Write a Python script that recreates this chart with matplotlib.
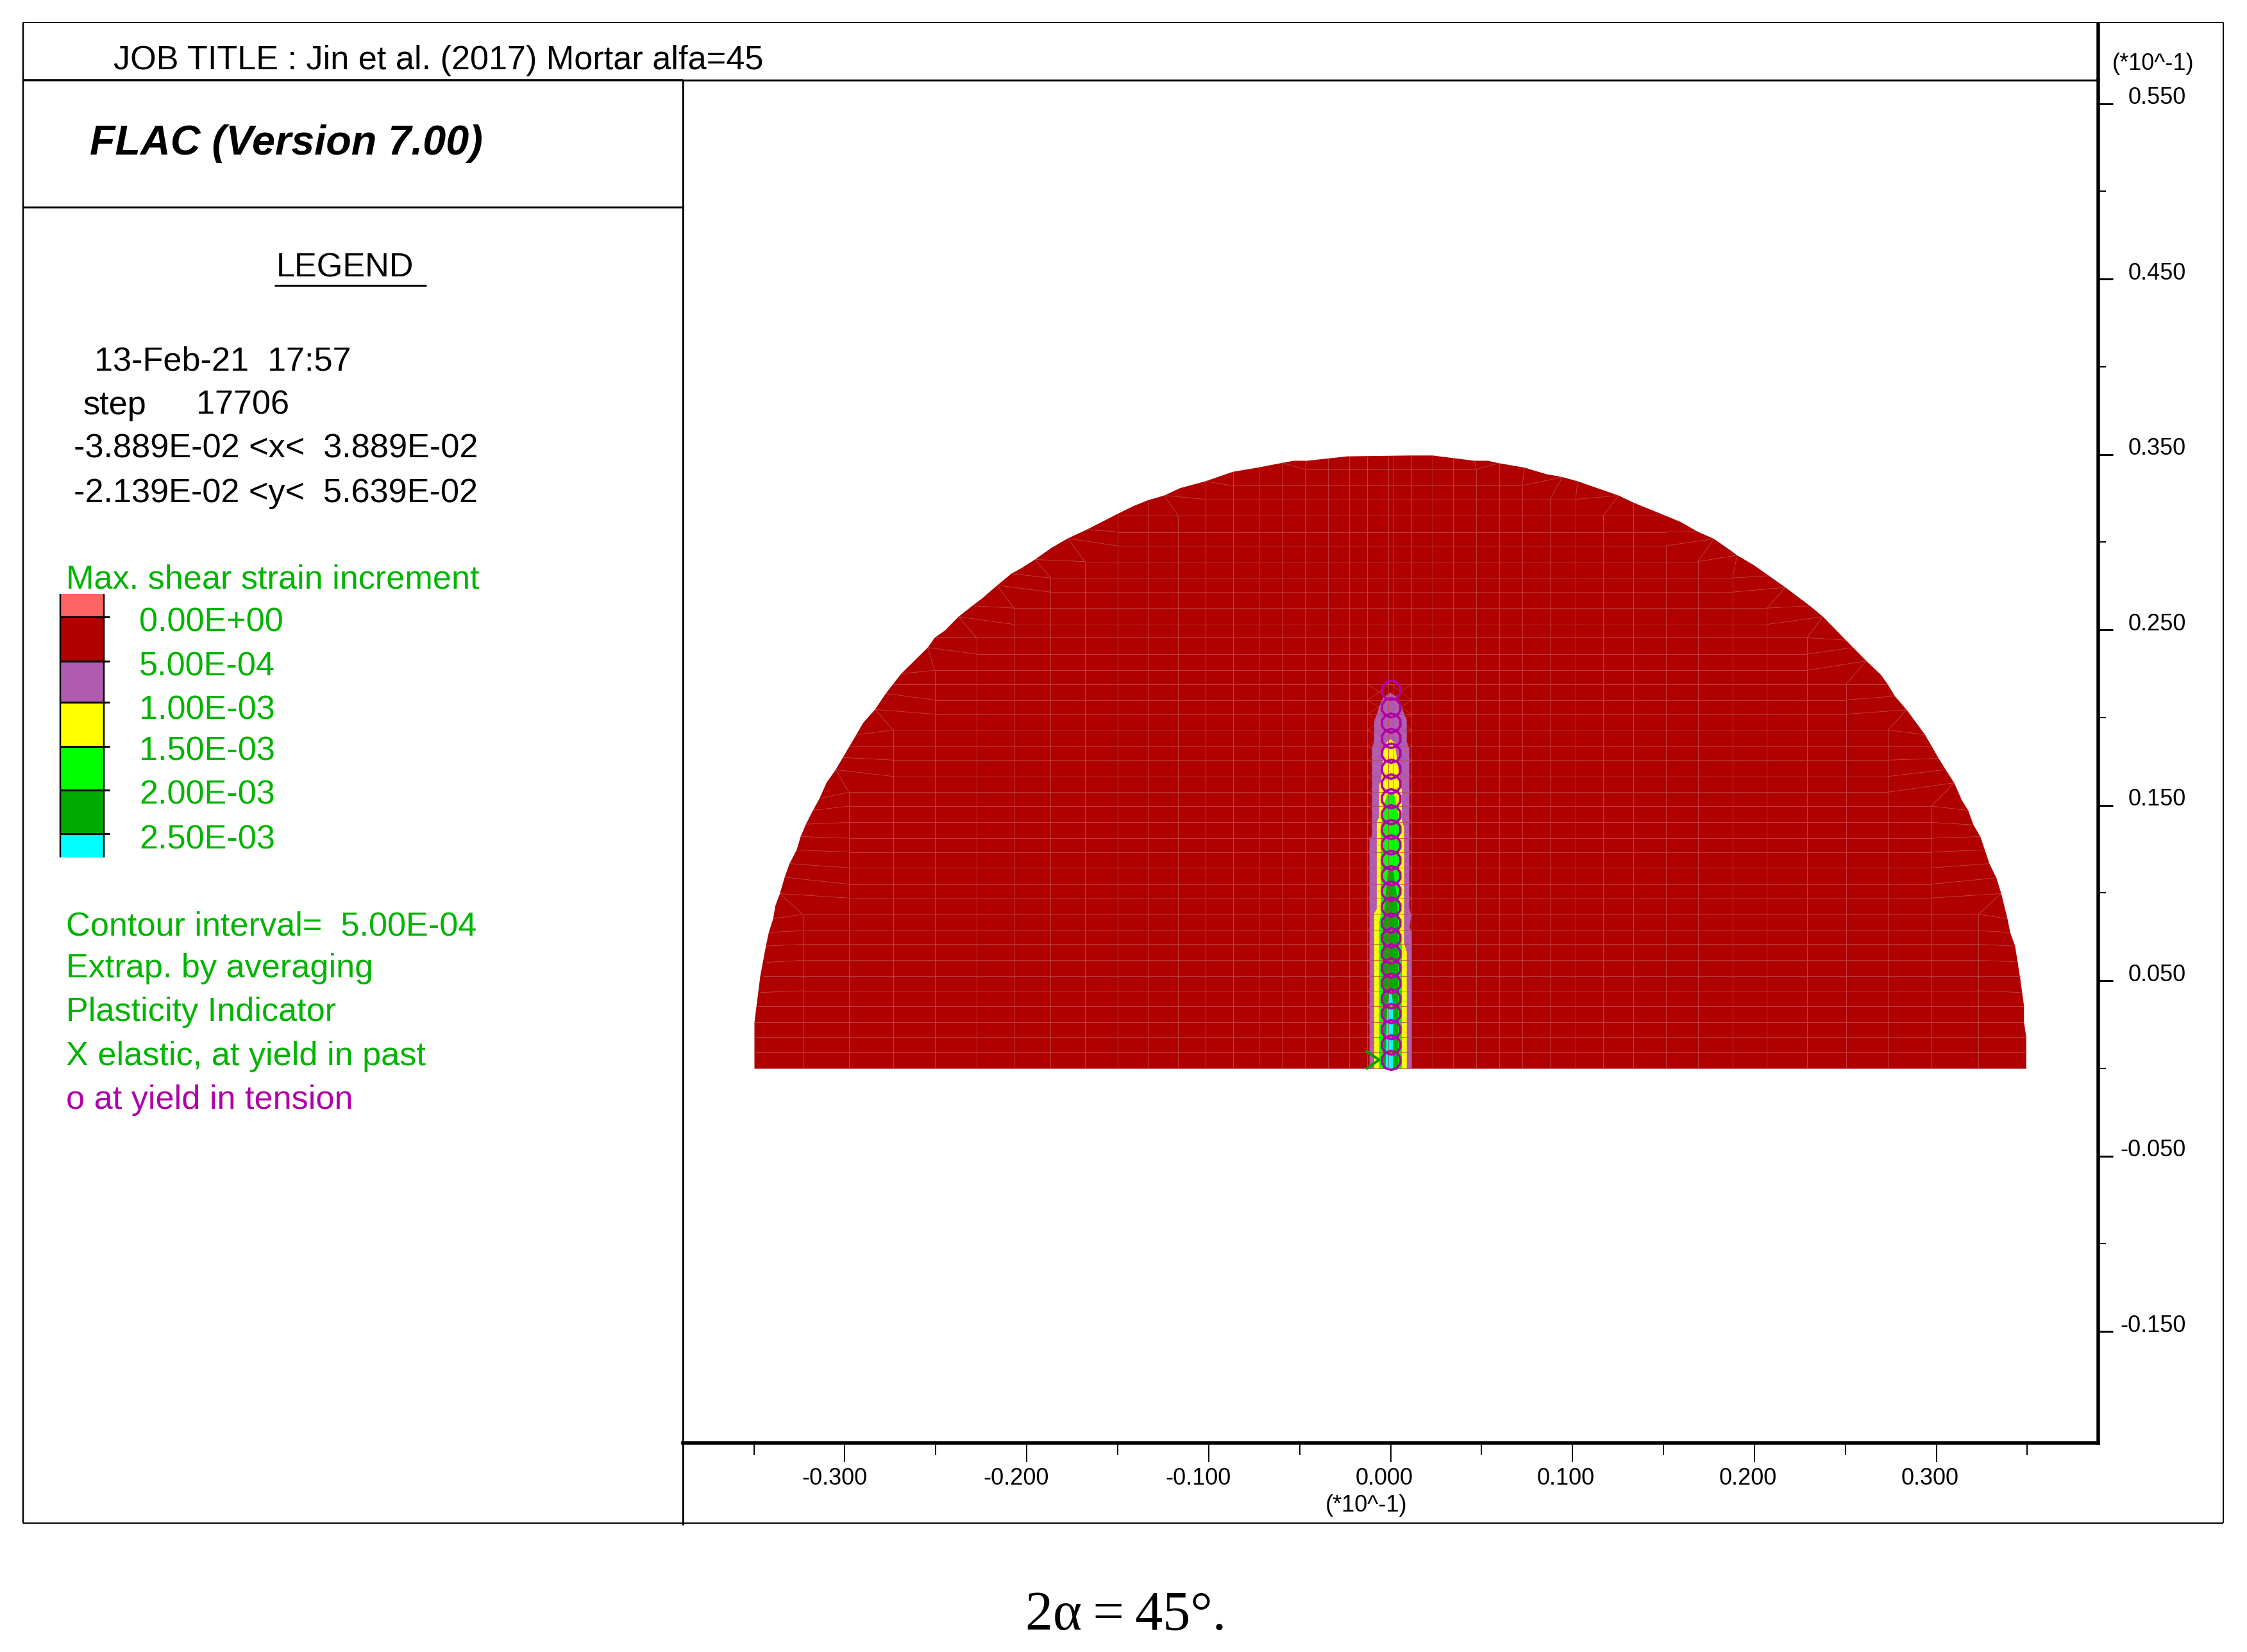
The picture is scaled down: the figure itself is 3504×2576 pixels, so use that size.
import numpy as np
import matplotlib
matplotlib.use("Agg")
import matplotlib.pyplot as plt
from matplotlib.lines import Line2D
from matplotlib.collections import LineCollection
from matplotlib.transforms import ScaledTranslation

W, H, DPI = 3504, 2576, 100
plt.rcParams['font.family'] = ['Liberation Sans', 'DejaVu Sans']

# model outline (units of 10^-1), left foot to right foot
outline_x = [-.3497, -.3497, -.3465, -.3434, -.3418, -.3394, -.3382, -.3357, -.3331, -.3304, -.3265, -.3243,
             -.3214, -.3175, -.3139, -.3101, -.3050, -.3011, -.2937, -.2899, -.2834, -.2775, -.2690, -.2544,
             -.2506, -.2449, -.2375, -.2299, -.2247, -.2162, -.2085, -.2029, -.1955, -.1865, -.1775, -.1669,
             -.1501, -.1415, -.1334, -.1244, -.1157, -.1018, -.0867, -.0730, -.0595, -.0532, -.0460, -.0343,
             -.0240, .0113, .0230, .0461, .0535, .0596, .0736, .0855, .0945, .1028, .1253, .1338, .1511,
             .1597, .1687, .1777, .1866, .1905, .1997, .2170, .2305, .2377, .2503, .2615, .2694, .2732,
             .2772, .2837, .2938, .3013, .3051, .3098, .3141, .3175, .3204, .3242, .3292, .3330, .3357,
             .3391, .3406, .3433, .3462, .3482, .3482, .3494, .3494]
outline_y = [0, .0261, .0525, .0697, .0775, .0853, .0927, .0996, .1089, .1167, .1245, .1321,
             .1392, .1471, .1539, .1628, .1703, .1772, .1902, .1970, .2046, .2137, .2250, .2399,
             .2455, .2497, .2575, .2637, .2678, .2754, .2820, .2852, .2901, .2967, .3021, .3072,
             .3161, .3205, .3239, .3266, .3308, .3347, .3401, .3425, .3452, .3464, .3464, .3477,
             .3489, .3494, .3494, .3464, .3464, .3450, .3425, .3388, .3371, .3347, .3266, .3224, .3151,
             .3114, .3060, .3019, .2955, .2925, .2869, .2742, .2637, .2575, .2441, .2323, .2245, .2191,
             .2122, .2044, .1902, .1767, .1703, .1628, .1527, .1471, .1388, .1321, .1167, .1086, .0996,
             .0853, .0775, .0697, .0506, .0354, .0261, .0180, 0]

# mesh lines
col_x = [-.3232, -.2978, -.2735, -.2506, -.2276, -.2072, -.1869, -.1681, -.1501, -.1334, -.1168, -.1018,
         -.0867, -.0725, -.0597, -.0471, -.0343, -.0227, -.0128, -.0011, .0011, .0115, .0230, .0342, .0470,
         .0596, .0724, .0875, .1017, .1169, .1334, .1513, .1689, .1880, .2069, .2289, .2505, .2734, .2972, .3231]
col_top = [.0878, .1574, .1929, .2269, .2455, .2624, .2796, .2889, .3161, .3239, .3151, .3347,
           .3401, .3425, .3452, .3415, .3477, .3489, .3489, .3489, .3489, .3491, .3494, .3480, .3415,
           .3450, .3322, .3244, .3244, .3151, .3224, .2979, .2889, .2796, .2624, .2455, .2191, .1929, .1495, .0878]

row_y = [0, .0090, .0180, .0261, .0354, .0442, .0525, .0616, .0707, .0785, .0878, .0971, .1050, .1143, .1233,
         .1312, .1402, .1495, .1574, .1664, .1757, .1836, .1929, .2019, .2100, .2191, .2269, .2362, .2455,
         .2531, .2624, .2715, .2796, .2889, .2979, .3058, .3151, .3244, .3322, .3415]
row_left = [-.3497, -.3497, -.3497, -.3497, -.3479, -.3232, -.3232, -.3232, -.3232, -.3232, -.3232, -.2978, -.2978,
            -.2978, -.2978, -.2978, -.2978, -.2978, -.2978, -.2735, -.2735, -.2735, -.2735, -.2506, -.2506, -.2506,
            -.2506, -.2276, -.2276, -.2072, -.2072, -.1869, -.1869, -.1681, -.1501, -.1501, -.1501, -.1018, -.0867, -.0471]
row_right = [.3494, .3494, .3494, .3482, .3482, .3231, .3231, .3231, .3231, .3231, .3231, .2972, .2972,
             .2972, .2972, .2972, .2972, .2972, .2734, .2734, .2734, .2734, .2734, .2505, .2505, .2505,
             .2289, .2289, .2289, .2069, .2069, .1880, .1880, .1689, .1513, .1513, .1511, .1017, .0724, .0470]

# x0, y0, x1, y1 of the slanted mesh lines running out to the boundary
spokes = [
    (-.3232, .0442, -.3465, .0432), (-.3232, .0525, -.3450, .0525), (-.3232, .0616, -.3432, .0604),
    (-.3232, .0707, -.3432, .0697), (-.3232, .0785, -.3416, .0775), (-.3232, .0878, -.3394, .0853),
    (-.3232, .0878, -.3357, .0996), (-.2978, .0971, -.3357, .0996), (-.2978, .1050, -.3331, .1089),
    (-.2978, .1143, -.3304, .1167), (-.2978, .1233, -.3265, .1245), (-.2978, .1312, -.3243, .1321),
    (-.2978, .1402, -.3214, .1392), (-.2978, .1495, -.3175, .1471), (-.2978, .1574, -.3139, .1539),
    (-.2978, .1574, -.3050, .1703), (-.2735, .1664, -.3050, .1703), (-.2735, .1757, -.3011, .1772),
    (-.2735, .1836, -.2973, .1836), (-.2735, .1929, -.2937, .1902), (-.2735, .1929, -.2834, .2046),
    (-.2506, .2019, -.2834, .2046), (-.2506, .2100, -.2775, .2137), (-.2506, .2191, -.2735, .2191),
    (-.2506, .2269, -.2690, .2250), (-.2506, .2269, -.2544, .2399), (-.2276, .2362, -.2544, .2399),
    (-.2276, .2455, -.2506, .2455), (-.2276, .2455, -.2375, .2575), (-.2072, .2531, -.2375, .2575),
    (-.2072, .2624, -.2299, .2637), (-.2072, .2624, -.2162, .2754), (-.1869, .2715, -.2162, .2754),
    (-.1869, .2796, -.2085, .2820), (-.1869, .2796, -.1955, .2901), (-.1681, .2889, -.1955, .2901),
    (-.1681, .2889, -.1775, .3021), (-.1501, .2979, -.1775, .3021), (-.1501, .3058, -.1669, .3072),
    (-.1168, .3151, -.1244, .3266), (-.1018, .3244, -.1244, .3266), (-.0867, .3322, -.1018, .3347),
    (-.0471, .3415, -.0595, .3452), (-.0471, .3415, -.0460, .3464),
    (.3231, .0878, .3391, .0853), (.3231, .0785, .3406, .0775), (.3231, .0707, .3433, .0697),
    (.3231, .0616, .3433, .0607), (.3231, .0525, .3462, .0525), (.3231, .0442, .3467, .0432),
    (.3231, .0878, .3357, .0996), (.2972, .0971, .3357, .0996), (.2972, .1050, .3330, .1086),
    (.2972, .1143, .3292, .1167), (.2972, .1233, .3267, .1245), (.2972, .1312, .3242, .1321),
    (.2972, .1402, .3204, .1388), (.2972, .1495, .3175, .1471), (.2972, .1495, .3098, .1628),
    (.2734, .1574, .3098, .1628), (.2734, .1664, .3051, .1703), (.2734, .1757, .3013, .1767),
    (.2734, .1836, .2968, .1836), (.2734, .1929, .2938, .1902), (.2734, .1929, .2837, .2044),
    (.2505, .2019, .2837, .2044), (.2505, .2100, .2772, .2122), (.2505, .2191, .2732, .2191),
    (.2505, .2191, .2615, .2323), (.2289, .2269, .2615, .2323), (.2289, .2362, .2541, .2399),
    (.2289, .2455, .2503, .2441), (.2289, .2455, .2377, .2575), (.2069, .2531, .2377, .2575),
    (.2069, .2624, .2305, .2637), (.2069, .2624, .2170, .2742), (.1880, .2715, .2170, .2742),
    (.1880, .2796, .2080, .2808), (.1880, .2796, .1905, .2925), (.1689, .2889, .1905, .2925),
    (.1689, .2889, .1777, .3019), (.1513, .2979, .1777, .3019), (.1513, .3058, .1687, .3060),
    (.1169, .3151, .1253, .3266), (.1017, .3244, .1253, .3266), (.1017, .3244, .1028, .3347),
    (.0875, .3244, .0945, .3371), (.0724, .3322, .0945, .3371), (.0724, .3322, .0736, .3425),
    (.0470, .3415, .0596, .3450), (.0470, .3415, .0461, .3464),
]

# strain contour bands round the crack
purple_x = [-.0116, -.0116, -.0102, -.0102, -.0090, -.0090, -.0058, -.0040, 0, .0036, .0060, .0089, .0089, .0103,
            .0103, .0113, .0105, .0115, .0115]
purple_y = [0, .1308, .1325, .1834, .1860, .1977, .2075, .2116, .2141, .2116, .2059, .1986, .1860, .1822,
            .0917, .0868, .0802, .0770, 0]
yellow_x = [-.0090, -.0090, -.0076, -.0076, -.0063, -.0063, -.0052, -.0038, -.0022, 0, .0021, .0036, .0052, .0062,
            .0062, .0074, .0074, .0089, .0089]
yellow_y = [0, .0884, .0908, .1406, .1431, .1618, .1635, .1814, .1860, .1876, .1860, .1765, .1635, .1586,
            .1414, .1373, .0713, .0664, 0]
green_x = [-.0063, -.0063, -.0054, -.0054, -.0040, -.0019, .0019, .0042, .0048, .0048, .0062, .0062]
green_y = [0, .0827, .0876, .1357, .1488, .1561, .1561, .1455, .1390, .0802, .0704, 0]
dgreen_x = [-.0042, -.0042, -.0022, -.0010, .0013, .0036, .0042, .0042]
dgreen_y = [0, .0802, .1047, .1145, .1145, .0966, .0802, 0]
cyan_x = [-.0028, -.0019, -.0010, .0007, .0015, .0015]
cyan_y = [0, .0345, .0427, .0427, .0345, 0]

# plasticity markers
tension_y = [.2155, .2059, .1972, .1884, .1798, .1708, .1622, .1537, .1447, .1365, .1276, .1189, .1099, .1011,
             .0920, .0830, .0745, .0655, .0574, .0487, .0399, .0313, .0223, .0133, .0048]
elastic_x = [-.0130, -.0063, -.0130]
elastic_y = [.0096, .0048, 0]

x_major = [-.3, -.2, -.1, 0, .1, .2, .3]
x_minor = [-.35, -.25, -.15, -.05, .05, .15, .25, .35]
x_labels = ['-0.300', '-0.200', '-0.100', '0.000', '0.100', '0.200', '0.300']
y_major = [.55, .45, .35, .25, .15, .05, -.05, -.15]
y_minor = [.5, .4, .3, .2, .1, 0, -.1]
y_labels = ['0.550', '0.450', '0.350', '0.250', '0.150', '0.050', '-0.050', '-0.150']

legend_labels = ['0.00E+00', '5.00E-04', '1.00E-03', '1.50E-03', '2.00E-03', '2.50E-03']
legend_colors = ['#FF6464', '#B00000', '#B05AB0', '#FFFF00', '#00FF00', '#00AA00', '#00FFFF']

GREEN = '#00B400'
MAGENTA = '#B000A8'
TXT = 37.6
pt = 72 / DPI  # one pixel in points


def fx(x):
    return x / W


def fy(y):
    return 1 - y / H


def put(x, y, s, size=TXT, color='black', **kw):
    fig.text(fx(x), fy(y), s, fontsize=size, color=color, ha=kw.pop('ha', 'left'), va='baseline', **kw)


def rule(x0, y0, x1, y1, px=3, color='black'):
    fig.add_artist(Line2D([fx(x0), fx(x1)], [fy(y0), fy(y1)], color=color, lw=px * pt, solid_capstyle='butt'))


fig = plt.figure(figsize=(W / DPI, H / DPI), dpi=DPI)

# main plot, positioned on the pixel frame of the FLAC plot
AX_L, AX_R, AX_T, AX_B = 1065, 3272, 125, 2250
ax = fig.add_axes([fx(AX_L), fy(AX_B), (AX_R - AX_L) / W, (AX_B - AX_T) / H])
ax.set_xlim(-.3890, .3890)
ax.set_ylim(-.2136, .5634)

ax.fill(outline_x, outline_y, color='#B00000', lw=0, zorder=1)
for xs, ys, c in [(purple_x, purple_y, '#B05AB0'), (yellow_x, yellow_y, '#FFFF00'), (green_x, green_y, '#00FF00'),
                  (dgreen_x, dgreen_y, '#00AA00'), (cyan_x, cyan_y, '#00FFFF')]:
    ax.fill(xs, ys, color=c, lw=0, zorder=2)

MESH = '#C04A4A'
ax.vlines(col_x, 0, col_top, color=MESH, lw=.8 * pt, zorder=3)
ax.hlines(row_y, row_left, row_right, color=MESH, lw=.8 * pt, zorder=3)
segs = [[(s[0], s[1]), (s[2], s[3])] for s in spokes]
ax.add_collection(LineCollection(segs, colors=MESH, linewidths=.8 * pt, zorder=3))

# criss-cross zones either side of the crack
low_rows = [r for r in row_y if 0 < r <= .2191]
cross = []
for a, b in zip(low_rows[:-1], low_rows[1:]):
    for side in (-.0128, .0115):
        cross.append([(side, a), (0, b)])
        cross.append([(side, b), (0, a)])
ax.add_collection(LineCollection(cross, colors='#D88A9A', linewidths=.8 * pt, alpha=.4, zorder=3))

ax.plot(elastic_x, elastic_y, color='#00A000', lw=4 * pt, zorder=4)
ax.plot(np.zeros(len(tension_y)), tension_y, ls='none', marker=(10, 0, 0), ms=30 * pt, mfc='none',
        mec=MAGENTA, mew=3.6 * pt, zorder=5)

for s in ('left', 'top'):
    ax.spines[s].set_linewidth(3 * pt)
for s in ('right', 'bottom'):
    ax.spines[s].set_linewidth(5.5 * pt)

ax.yaxis.tick_right()
ax.set_xticks(x_major, labels=x_labels)
ax.set_xticks(x_minor, minor=True)
ax.set_yticks(y_major, labels=y_labels)
ax.set_yticks(y_minor, minor=True)
ax.tick_params(axis='x', which='major', length=30 * pt, width=2 * pt, labelsize=26, pad=8 * pt)
ax.tick_params(axis='x', which='minor', length=19 * pt, width=2 * pt)
ax.tick_params(axis='y', which='major', length=23 * pt, width=3 * pt, labelsize=26, pad=0)
ax.tick_params(axis='y', which='minor', length=12 * pt, width=2 * pt)

# FLAC prints its tick labels off-centre
off_x = ScaledTranslation(35 / DPI, 0, fig.dpi_scale_trans)
for lab in ax.get_xticklabels():
    lab.set_ha('right')
    lab.set_transform(lab.get_transform() + off_x)
off_y = ScaledTranslation(114 / DPI, 13 / DPI, fig.dpi_scale_trans)
for lab in ax.get_yticklabels():
    lab.set_ha('right')
    lab.set_transform(lab.get_transform() + off_y)

put(2194, 2357, '(*10^-1)', size=26, ha='right')
put(3421, 109, '(*10^-1)', size=26, ha='right')

# frame and panel rules
rule(36, 35, 3467, 35, 2)
rule(3467, 35, 3467, 2375, 2)
rule(36, 2375, 3467, 2375, 2)
rule(36, 35, 36, 2375, 2.5)
rule(36, 125, AX_L, 125, 3.5)
rule(36, 323, AX_L, 323, 3)
rule(AX_L, AX_B, AX_L, 2378, 3)
rule(AX_R, 35, AX_R, AX_T, 5.5)

# left panel
put(177, 108, 'JOB TITLE : Jin et al. (2017) Mortar alfa=45')
put(140, 241, 'FLAC (Version 7.00)', size=46.6, fontweight='bold', fontstyle='italic')
put(431, 431, 'LEGEND')
rule(428, 444.5, 665, 444.5, 3)
put(147, 578, '13-Feb-21  17:57')
put(130, 646, 'step')
put(306, 646, '17706')
put(115, 714, '-3.889E-02 <x<  3.889E-02')
put(115, 783, '-2.139E-02 <y<  5.639E-02')

put(103, 917, 'Max. shear strain increment', color=GREEN)
legend_base = [984.3, 1053, 1121, 1185, 1254, 1323]
for lb, base in zip(legend_labels, legend_base):
    put(217, base, lb, color=GREEN)

# legend colour strip
strip = [926, 962, 1031, 1095, 1164, 1232, 1300, 1337]
axl = fig.add_axes([0, 0, 1, 1], facecolor='none')
axl.set_xlim(0, W)
axl.set_ylim(H, 0)
axl.axis('off')
for c, a, b in zip(legend_colors, strip[:-1], strip[1:]):
    axl.fill_between([94, 162], a, b, color=c, lw=0)
axl.vlines([94, 162], 926, 1337, color='black', lw=2.5 * pt)
axl.hlines(strip[1:-1], 94, 171, color='black', lw=3 * pt)

put(103, 1458, 'Contour interval=  5.00E-04', color=GREEN)
put(103, 1524, 'Extrap. by averaging', color=GREEN)
put(103, 1591.7, 'Plasticity Indicator', color=GREEN)
put(103, 1661, 'X elastic, at yield in past', color=GREEN)
put(103, 1728.7, 'o at yield in tension', color=MAGENTA)

fig.text(fx(1599), fy(2541), '2α\u2009=\u200945°.', fontsize=62, family=['Liberation Serif', 'DejaVu Serif'], va='baseline')

fig.savefig('out.png', dpi=DPI, facecolor='white')
